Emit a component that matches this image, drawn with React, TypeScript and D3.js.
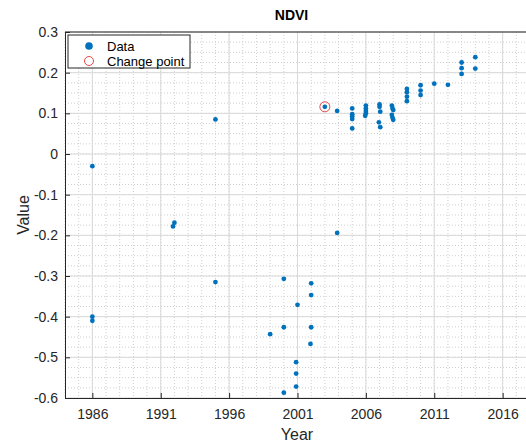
import { useEffect, useRef } from 'react'
import * as d3 from 'd3'

// years and NDVI values
const years = [
  1986, 1986, 1986, 1991.9, 1992, 1995, 1995,
  1999, 2000, 2000, 2000, 2001, 2000.9, 2000.9, 2000.9, 2002, 2002, 2002, 2001.95,
  2003, 2003.9,
  2003.9,
  2005, 2005, 2005, 2005, 2005,
  2006, 2006, 2006, 2006, 2005.95,
  2007, 2007, 2007.05, 2006.95, 2007.05,
  2007.9, 2007.95, 2008, 2007.9, 2007.95, 2008,
  2009, 2009, 2009, 2009,
  2010, 2010, 2010,
  2011, 2012,
  2013, 2013, 2013,
  2014, 2014,
]
const values = [
  -0.03, -0.40, -0.41, -0.178, -0.169, 0.085, -0.315,
  -0.443, -0.307, -0.426, -0.587, -0.371, -0.512, -0.540, -0.572, -0.318, -0.347, -0.426, -0.467,
  0.116, -0.194,
  0.106,
  0.112, 0.098, 0.092, 0.086, 0.063,
  0.119, 0.112, 0.106, 0.100, 0.094,
  0.122, 0.116, 0.104, 0.078, 0.066,
  0.119, 0.112, 0.108, 0.096, 0.089, 0.084,
  0.160, 0.152, 0.141, 0.130,
  0.169, 0.156, 0.145,
  0.173, 0.170,
  0.225, 0.211, 0.197,
  0.238, 0.210,
]
const changeYear = [2003]
const changeValue = [0.116]

const xTicks = [1986, 1991, 1996, 2001, 2006, 2011, 2016]
const yTicks = [0.3, 0.2, 0.1, 0, -0.1, -0.2, -0.3, -0.4, -0.5, -0.6]

const W = 526
const H = 444
const FONT = 'Arial, "Liberation Sans", Helvetica, sans-serif'

export default function App() {
  const ref = useRef<SVGSVGElement>(null)

  useEffect(() => {
    const svg = d3.select(ref.current)
    svg.selectAll('*').remove()

    const left = 65, top = 32, bottom = 398, right = 530
    const x = d3.scaleLinear().domain([1984, 2018]).range([left, right])
    const y = d3.scaleLinear().domain([-0.6, 0.3]).range([bottom, top])

    svg.append('rect').attr('width', W).attr('height', H).attr('fill', '#fff')

    const g = svg.append('g')

    // Minor grid
    g.append('g').selectAll('line').data(d3.range(1984, 2019))
      .join('line')
      .attr('x1', d => x(d)).attr('x2', d => x(d)).attr('y1', top).attr('y2', bottom)
      .attr('stroke', '#cfcfcf').attr('stroke-dasharray', '1,2').attr('stroke-width', 1)
    g.append('g').selectAll('line').data(d3.range(-0.6, 0.3001, 0.025))
      .join('line')
      .attr('x1', left).attr('x2', right).attr('y1', d => y(d)).attr('y2', d => y(d))
      .attr('stroke', '#cfcfcf').attr('stroke-dasharray', '1,2').attr('stroke-width', 1)

    // Major grid
    g.append('g').selectAll('line').data(xTicks)
      .join('line')
      .attr('x1', d => x(d)).attr('x2', d => x(d)).attr('y1', top).attr('y2', bottom)
      .attr('stroke', '#d9d9d9')
    g.append('g').selectAll('line').data(yTicks)
      .join('line')
      .attr('x1', left).attr('x2', right).attr('y1', d => y(d)).attr('y2', d => y(d))
      .attr('stroke', '#d9d9d9')

    // Axes
    const xAxis = g.append('g').attr('transform', `translate(0,${bottom})`)
      .call(d3.axisBottom(x).tickValues(xTicks).tickSize(-5).tickPadding(11).tickFormat(d3.format('d')))
    const yAxis = g.append('g').attr('transform', `translate(${left},0)`)
      .call(d3.axisLeft(y).tickValues(yTicks).tickSize(-5).tickPadding(7).tickFormat(d => (d === 0 ? '0' : d3.format('.1f')(d as number))))
    for (const a of [xAxis, yAxis]) {
      a.select('.domain').attr('stroke', '#262626')
      a.selectAll('.tick line').attr('stroke', '#262626')
      a.selectAll('text').attr('fill', '#262626').attr('font-size', '14px').attr('font-family', FONT)
    }
    yAxis.selectAll('text').text(function () { return (this as SVGTextElement).textContent!.replace('−', '-') })
    g.append('line').attr('x1', left).attr('x2', right).attr('y1', top).attr('y2', top)
      .attr('stroke', '#262626')

    // Data
    g.append('g').selectAll('circle').data(years.map((yr, i) => [yr, values[i]]))
      .join('circle')
      .attr('cx', d => x(d[0])).attr('cy', d => y(d[1])).attr('r', 2.4)
      .attr('fill', '#0072bd')

    g.append('g').selectAll('circle').data(changeYear.map((yr, i) => [yr, changeValue[i]]))
      .join('circle')
      .attr('cx', d => x(d[0])).attr('cy', d => y(d[1])).attr('r', 5)
      .attr('fill', 'none').attr('stroke', '#e8464a').attr('stroke-width', 1)

    // Legend
    const lg = svg.append('g')
    lg.append('rect').attr('x', 68).attr('y', 35).attr('width', 122).attr('height', 33)
      .attr('fill', '#fff').attr('stroke', '#262626').attr('stroke-width', 1)
    lg.append('circle').attr('cx', 89).attr('cy', 46).attr('r', 3.8).attr('fill', '#0072bd')
    lg.append('circle').attr('cx', 89).attr('cy', 61).attr('r', 4.5)
      .attr('fill', 'none').attr('stroke', '#e8464a').attr('stroke-width', 1)
    lg.append('text').attr('x', 107).attr('y', 50.5).text('Data')
      .attr('font-size', '13px').attr('font-family', FONT).attr('fill', '#000')
    lg.append('text').attr('x', 107).attr('y', 65.5).text('Change point')
      .attr('font-size', '13px').attr('font-family', FONT).attr('fill', '#000')

    // Labels
    svg.append('text').attr('x', (left + W) / 2 - 4).attr('y', 20).attr('text-anchor', 'middle')
      .attr('font-size', '14px').attr('font-weight', 'bold').attr('font-family', FONT).attr('fill', '#000')
      .text('NDVI')
    svg.append('text').attr('x', 297).attr('y', 440).attr('text-anchor', 'middle')
      .attr('font-size', '16px').attr('font-family', FONT).attr('fill', '#262626')
      .text('Year')
    svg.append('text').attr('transform', `translate(29,${(top + bottom) / 2}) rotate(-90)`)
      .attr('text-anchor', 'middle')
      .attr('font-size', '16px').attr('font-family', FONT).attr('fill', '#262626')
      .text('Value')
  }, [])

  return (
    <svg ref={ref} width={W} height={H}
      style={{ position: 'absolute', left: 0, top: 0, display: 'block' }} />
  )
}
